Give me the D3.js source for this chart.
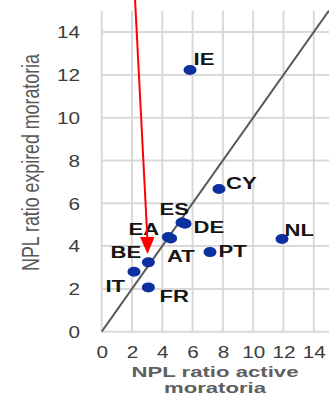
<!DOCTYPE html>
<html>
<head>
<meta charset="utf-8">
<script src="https://cdn.jsdelivr.net/npm/d3@7"></script>
<style>
  html, body { margin: 0; padding: 0; background: #fff; }
  svg { display: block; }
</style>
</head>
<body>
<svg id="chart" width="329" height="397"></svg>
<script>
// NPL ratios by country: loans under active vs. expired moratoria (%)
const countries  = ["IE", "CY", "NL", "PT", "ES", "DE", "EA", "AT", "BE", "IT", "FR"];
const activeNPL  = [5.83, 7.74, 11.9, 7.15, 5.3, 5.5, 4.4, 4.55, 3.08, 2.13, 3.08];
const expiredNPL = [12.23, 6.67, 4.33, 3.72, 5.1, 5.05, 4.42, 4.36, 3.24, 2.80, 2.07];

const xTicks = [0, 2, 4, 6, 8, 10, 12, 14];
const yTicks = [0, 2, 4, 6, 8, 10, 12, 14];

const xTitle = ["NPL ratio active", "moratoria"];
const yTitle = "NPL ratio expired moratoria";
const highlighted = "BE";

// label placement relative to each dot (left edge, baseline)
const labelOffset = {
  IE: [3.5, -5], CY: [7, 0], NL: [2.5, -3], PT: [8.5, 5],
  DE: [8.5, 9.4], ES: [-22.5, -7.6], EA: [-39.9, -2.1], AT: [-3.6, 23.6],
  BE: [-37.8, -4.3], IT: [-28.5, 20.3], FR: [11.2, 14.7]
};

const points = countries.map((c, i) => ({ c, x: activeNPL[i], y: expiredNPL[i] }));

const svg = d3.select("#chart");
const x = d3.scaleLinear().domain([0, 16]).range([101.7, 101.7 + 16 * 15.15]);
const y = d3.scaleLinear().domain([0, 15]).range([331.7, 331.7 - 15 * 21.4]);

const FONT = "'Liberation Sans', Arial, sans-serif";
const STRETCH = 1.3;

// grid
const grid = svg.append("g").attr("stroke", "#d9d9d9").attr("stroke-width", 2);
grid.selectAll("line.v").data(xTicks).join("line")
  .attr("x1", d => x(d)).attr("x2", d => x(d))
  .attr("y1", y(15)).attr("y2", y(0));
grid.selectAll("line.h").data(yTicks).join("line")
  .attr("x1", x(0)).attr("x2", x(16))
  .attr("y1", d => y(d)).attr("y2", d => y(d));

// axes (labels only)
const xAxis = svg.append("g")
  .attr("transform", `translate(0,${y(0)})`)
  .call(d3.axisBottom(x).tickValues(xTicks).tickSize(0).tickPadding(0));
const yAxis = svg.append("g")
  .attr("transform", `translate(${x(0)},0)`)
  .call(d3.axisLeft(y).tickValues(yTicks).tickSize(0).tickPadding(0));
[xAxis, yAxis].forEach(g => g.select(".domain").remove());

xAxis.selectAll("text")
  .attr("x", null).attr("y", null).attr("dy", null)
  .attr("transform", `translate(0,26.3) scale(1.27,1)`)
  .attr("font-family", FONT).attr("font-size", 16.3).attr("fill", "#3c3c3c");
yAxis.selectAll("text")
  .attr("x", null).attr("dy", "0.35em")
  .attr("transform", `translate(${80 - x(0)},0) scale(1.27,1)`)
  .attr("text-anchor", "end")
  .attr("font-family", FONT).attr("font-size", 16.3).attr("fill", "#3c3c3c");

// 45-degree reference line
svg.append("line")
  .attr("x1", x(0)).attr("y1", y(0))
  .attr("x2", x(15)).attr("y2", y(15))
  .attr("stroke", "#5a5a5a").attr("stroke-width", 2);

// dots
svg.append("g").selectAll("ellipse").data(points).join("ellipse")
  .attr("cx", d => x(d.x)).attr("cy", d => y(d.y))
  .attr("rx", 6.5).attr("ry", 5)
  .attr("fill", "#0c30a0");

// country labels
svg.append("g").selectAll("text").data(points).join("text")
  .attr("transform", d => `translate(${x(d.x) + labelOffset[d.c][0]},${y(d.y) + labelOffset[d.c][1]}) scale(${STRETCH},1)`)
  .attr("font-family", FONT).attr("font-size", 17).attr("font-weight", "bold")
  .attr("fill", "#151515")
  .text(d => d.c);

// axis titles
svg.append("g").selectAll("text").data(xTitle).join("text")
  .attr("transform", (d, i) => `translate(215,${376.5 + i * 16.5}) scale(1.43,1)`)
  .attr("text-anchor", "middle")
  .attr("font-family", FONT).attr("font-size", 15.5).attr("font-weight", "bold")
  .attr("fill", "#5f5f5f")
  .text(d => d);

svg.append("text")
  .attr("transform", `translate(38.5,162.5) scale(1.3,1) rotate(-90)`)
  .attr("text-anchor", "middle")
  .attr("font-family", FONT).attr("font-size", 17.8)
  .attr("fill", "#585858")
  .text(yTitle);

// red arrow pointing at the highlighted country
const hp = points.find(p => p.c === highlighted);
const tipX = x(hp.x) - 0.8, tipY = y(hp.y) - 8.3;
svg.append("line")
  .attr("x1", tipX - 12.5).attr("y1", 0)
  .attr("x2", tipX).attr("y2", tipY - 12)
  .attr("stroke", "#ff0000").attr("stroke-width", 2);
svg.append("path")
  .attr("d", `M${tipX},${tipY} L${tipX - 7.5},${tipY - 17} L${tipX + 7},${tipY - 17} Z`)
  .attr("fill", "#ff0000");
</script>
</body>
</html>
